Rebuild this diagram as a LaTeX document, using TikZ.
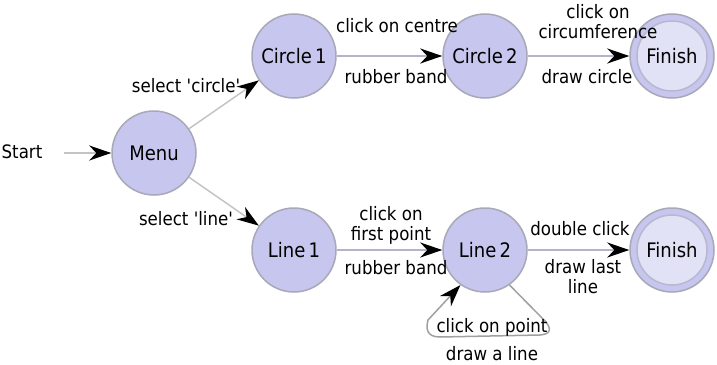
\documentclass[tikz,border=0pt]{standalone}
\usepackage{fontspec}
\setmainfont{DejaVu Sans Condensed}
\usetikzlibrary{arrows.meta}
\definecolor{nodefill}{HTML}{C6C6EE}
\definecolor{nodeline}{HTML}{A8A8B8}
\definecolor{innerfill}{HTML}{E2E2F6}
\definecolor{innerline}{HTML}{B8B8D0}
\definecolor{edgegray}{HTML}{C4C4C4}
\definecolor{edgeblue}{HTML}{B4B4C8}
\definecolor{loopgray}{HTML}{A0A0A0}
\begin{document}
\begin{tikzpicture}[x=1pt,y=-1pt,
  state/.style={circle,draw=nodeline,line width=1.5pt,fill=nodefill,minimum size=84pt,inner sep=0pt,
    font=\fontsize{20}{22}\selectfont},
  inner/.style={circle,draw=innerline,line width=1.5pt,fill=innerfill,minimum size=70pt,inner sep=0pt,
    font=\fontsize{20}{22}\selectfont},
  lbl/.style={inner sep=0pt,align=center,font=\fontsize{18.5}{20}\selectfont},
  edge/.style={draw=edgegray,line width=1.5pt,-{Stealth[length=22pt,width=15pt,inset=7pt,color=black]}},
  hedge/.style={edge,draw=edgeblue}]
\useasboundingbox (0,0) rectangle (717,364);
\node[state] (menu) at (154,153) {Menu};
\node[state] (c1) at (294,56) {Circle\,1};
\node[state] (c2) at (485,56) {Circle\,2};
\node[state] (f1) at (672,56) {};
\node[inner] (f1in) at (f1.center) {Finish};
\node[state] (l1) at (294,250) {Line\,1};
\node[state] (l2) at (485,250) {Line\,2};
\node[state] (f2) at (672,250) {};
\node[inner] (f2in) at (f2.center) {Finish};
\node[lbl] (start) at (22,152) {Start};
\coordinate (startend) at (64,153);
\draw[edge] (startend) -- (menu);
\draw[edge] (menu) -- (c1);
\draw[edge] (menu) -- (l1);
\draw[hedge] (c1) -- (c2);
\draw[hedge] (c2) -- (f1);
\draw[hedge] (l1) -- (l2);
\draw[hedge] (l2) -- (f2);
\draw[draw=loopgray,line width=1.5pt,-{Stealth[length=22pt,width=15pt,inset=7pt,color=black]}]
  (l2.-55) -- (546,322) .. controls (552,330) and (550,334) .. (540,335)
  -- (440,337) .. controls (426,337) and (426,328) .. (428,320)
  -- (l2.-125);
\node[lbl] at (186,86) {select \textquotesingle circle\textquotesingle};
\node[lbl] at (186,219) {select \textquotesingle line\textquotesingle};
\node[lbl] at (397,26) {click on centre};
\node[lbl] at (396,77) {rubber band};
\node[lbl] at (598,22) {click on\\circumference};
\node[lbl] at (587,77) {draw circle};
\node[lbl] at (391,225) {click on\\first point};
\node[lbl] at (396,268) {rubber band};
\node[lbl] at (580,229) {double click};
\node[lbl] at (583,277) {draw last\\line};
\node[lbl] at (492,327) {click on point};
\node[lbl] at (492,354) {draw a line};
\end{tikzpicture}
\end{document}
